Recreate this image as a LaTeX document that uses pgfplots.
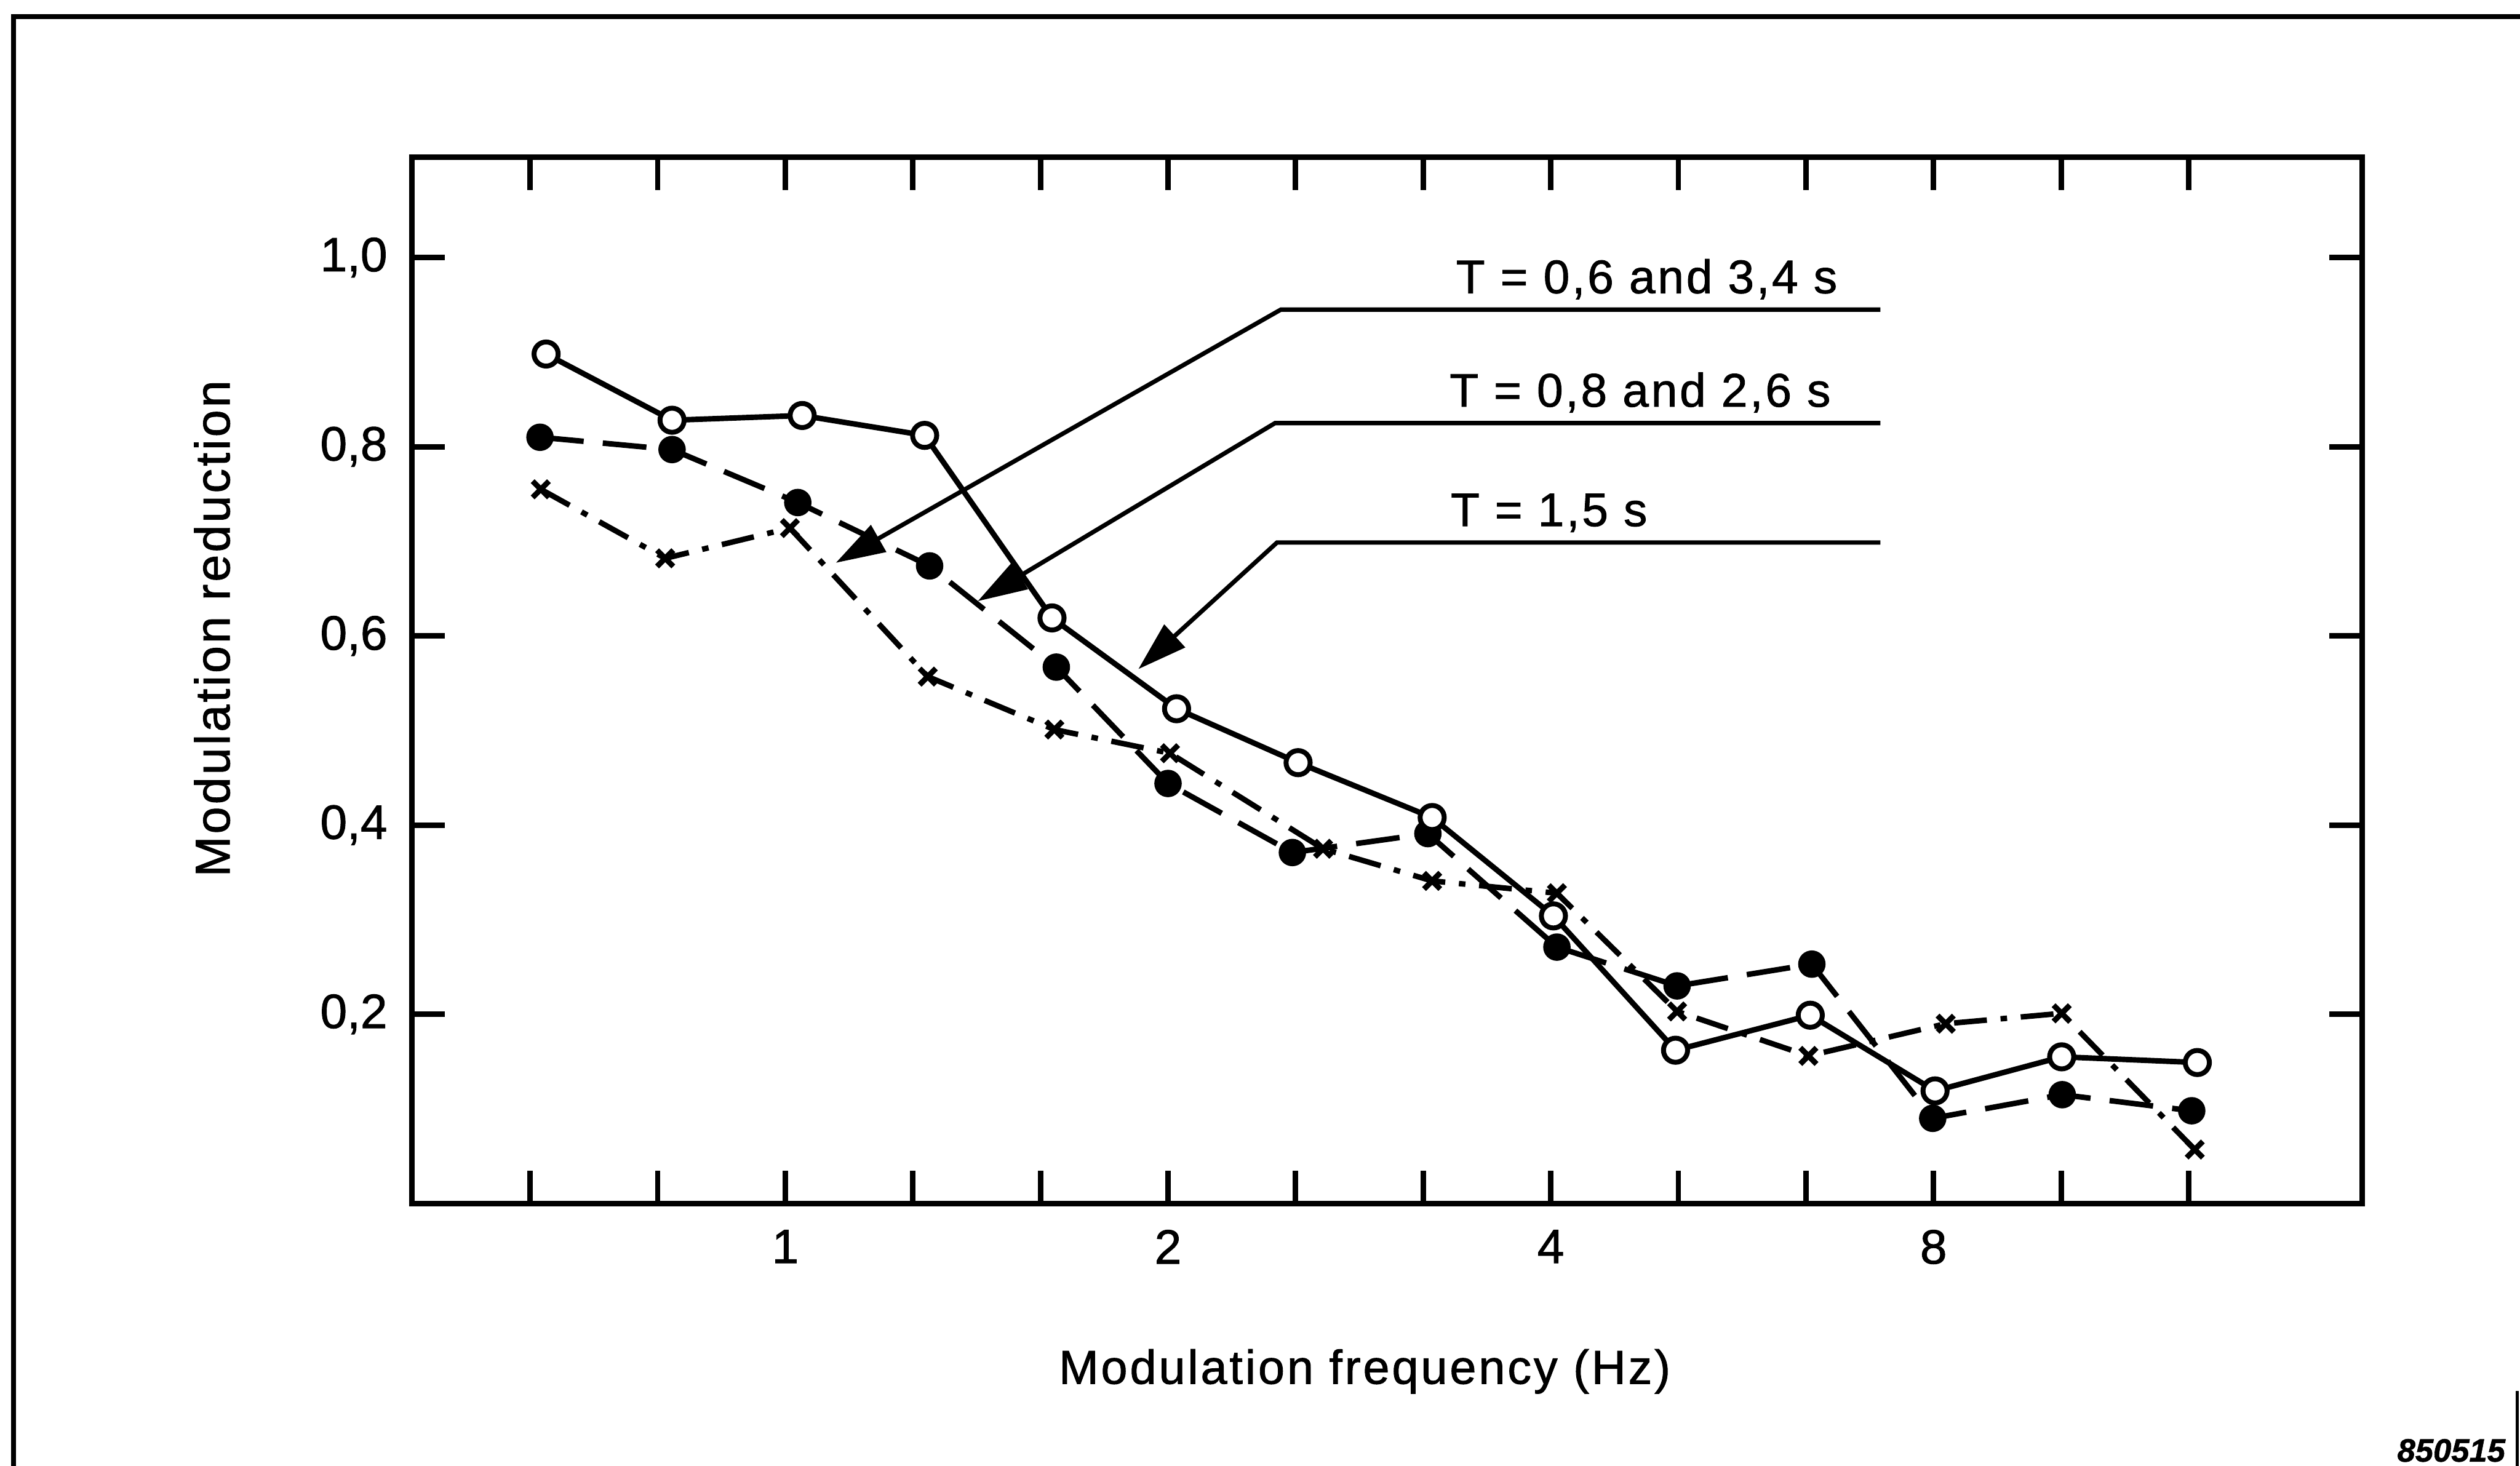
\documentclass[border=0pt]{standalone}
\usepackage{fontspec}
\setmainfont{Liberation Sans}[FakeBold=1.2]
\newfontfamily\lbl[LetterSpace=5,FakeBold=1.2]{Liberation Sans}
\newfontfamily\tck[FakeBold=1.2]{Liberation Sans}
\usepackage{pgfplots}
\pgfplotsset{compat=1.18}
\usetikzlibrary{arrows.meta}

\begin{document}
\begin{tikzpicture}
\path[use as bounding box] (0pt,0pt) rectangle (459.8pt,267.5pt);
% outer frame
\draw[line width=0.9pt] (2.5pt,0pt) -- (2.5pt,264.5pt) -- (459.8pt,264.5pt);
\draw[line width=0.6pt] (459.3pt,0pt) -- (459.3pt,13.7pt);

\begin{axis}[
  at={(75.2pt,47.9pt)}, anchor=south west,
  scale only axis, width=355.8pt, height=190.9pt,
  xmode=log, log basis x=2,
  xmin=0.5087, xmax=17.39, ymin=0, ymax=1.106,
  xtick={0.63,0.7937,1,1.26,1.5874,2,2.5198,3.1748,4,5.0397,6.3496,8,10.0794,12.6992},
  xticklabels={,,1,,,2,,,4,,,8,,},
  ytick={0.2,0.4,0.6,0.8,1.0},
  /pgf/number format/assume math mode=true,
  yticklabel style={xshift=-1pt, /pgf/number format/.cd, fixed, fixed zerofill, precision=1, use comma},
  xtick pos=both, ytick pos=both,
  tick align=inside, major tick length=6pt,
  every tick/.style={black, line width=1pt},
  axis line style={line width=1pt},
  tick label style={font=\tck\fontsize{8.8}{10}\selectfont},
  xticklabel style={yshift=-1.3pt},
]
% T = 0,6 and 3,4 s : crosses, dash-dot
\addplot[black, line width=1pt, dash pattern=on 6pt off 2.5pt on 1.2pt off 2.5pt,
  mark=x, mark size=2.1pt, mark options={solid, line width=1pt}] coordinates {
  (0.6422,0.755) (0.8044,0.682) (1.0083,0.714) (1.2942,0.557) (1.6279,0.501)
  (2.007,0.476) (2.648,0.375) (3.227,0.341) (4.0445,0.328) (5.028,0.203)
  (6.378,0.156) (8.179,0.190) (10.09,0.201) (12.84,0.057)
};
% T = 0,8 and 2,6 s : filled circles, dashed
\addplot[black, line width=1pt, dash pattern=on 8pt off 3.5pt,
  mark=*, mark size=2pt, mark options={solid, fill=black}] coordinates {
  (0.6413,0.810) (0.8145,0.797) (1.0228,0.741) (1.2986,0.674) (1.6336,0.567)
  (2.0,0.444) (2.505,0.371) (3.202,0.391) (4.0445,0.271) (5.028,0.230)
  (6.418,0.253) (7.989,0.090) (10.10,0.115) (12.77,0.098)
};
% T = 1,5 s : open circles, solid
\addplot[black, line width=1pt, solid,
  mark=*, mark size=2.2pt, mark options={solid, fill=white, line width=0.9pt}] coordinates {
  (0.6484,0.898) (0.8145,0.828) (1.031,0.833) (1.287,0.812) (1.621,0.619)
  (2.031,0.523) (2.531,0.466) (3.227,0.408) (4.019,0.304) (5.014,0.162)
  (6.400,0.199) (8.022,0.119) (10.09,0.155) (12.90,0.149)
};
\end{axis}

% leader lines with arrows
\draw[line width=0.8pt, -{Triangle[length=9pt,width=5.5pt]}]
  (343.1pt,211.0pt) -- (233.7pt,211.0pt) -- (152.5pt,164.8pt);
\draw[line width=0.8pt, -{Triangle[length=9pt,width=5.5pt]}]
  (343.1pt,190.3pt) -- (232.65pt,190.3pt) -- (178.4pt,157.8pt);
\draw[line width=0.8pt, -{Triangle[length=9pt,width=5.5pt]}]
  (343.1pt,168.5pt) -- (233.0pt,168.5pt) -- (207.7pt,145.4pt);

\node[anchor=base west, inner sep=0pt, font=\lbl\fontsize{8.6}{10}\selectfont]
  at (265.5pt,214.0pt) {T = 0,6 and 3,4 s};
\node[anchor=base west, inner sep=0pt, font=\lbl\fontsize{8.6}{10}\selectfont]
  at (264.3pt,193.3pt) {T = 0,8 and 2,6 s};
\node[anchor=base west, inner sep=0pt, font=\lbl\fontsize{8.6}{10}\selectfont]
  at (264.5pt,171.5pt) {T = 1,5 s};

% axis titles
\node[anchor=center, rotate=90, inner sep=0pt, font=\lbl\fontsize{8.9}{10}\selectfont]
  at (38.7pt,152.8pt) {Modulation reduction};
\node[anchor=base, inner sep=0pt, font=\lbl\fontsize{8.7}{10}\selectfont]
  at (249.0pt,15.0pt) {Modulation frequency (Hz)};

\node[anchor=base east, inner sep=0pt, font=\bfseries\itshape\fontsize{5.9}{7}\selectfont]
  at (457.3pt,0.8pt) {850515};
\end{tikzpicture}
\end{document}
